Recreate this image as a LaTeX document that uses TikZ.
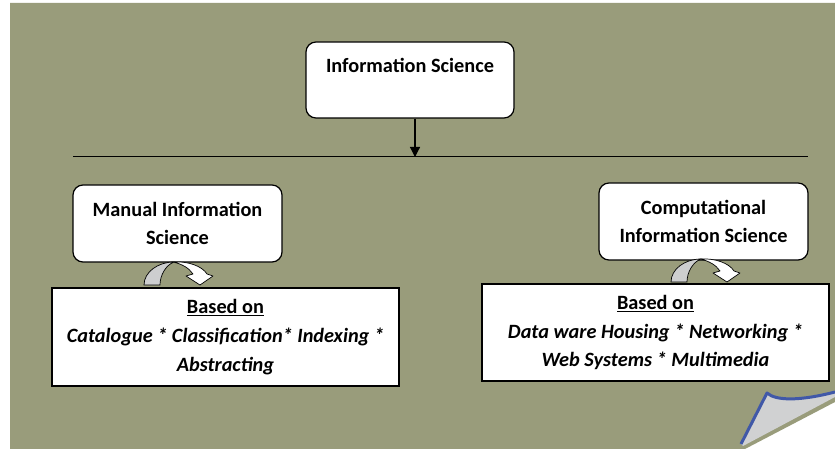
\documentclass[tikz,border=0pt]{standalone}
\usepackage{fontspec}
\setmainfont{Carlito}
\usetikzlibrary{arrows.meta}
\definecolor{olive}{RGB}{153,156,123}
\definecolor{foldgrey}{RGB}{208,209,210}
\definecolor{curlblue}{RGB}{64,88,168}
\definecolor{legrey}{RGB}{205,206,207}
\tikzset{
  txt/.style={font=\fontsize{20.3}{28.8}\selectfont\bfseries, align=center},
  rbox/.style={txt, draw=black, line width=1.2pt, fill=white, rounded corners=10pt, inner sep=0pt},
  sbox/.style={txt, draw=black, line width=1.2pt, fill=white, inner sep=0pt},
  curvarr/.pic={
    \fill[legrey, draw=black, line width=0.7pt]
      (-34,0) .. controls (-34,-13) and (-20,-23) .. (-4,-23)
      .. controls (-12,-20) and (-18,-10) .. (-18,0) -- cycle;
    \fill[white, draw=black, line width=0.7pt, line join=round]
      (-5,-23) .. controls (10,-24) and (24,-19) .. (29,-11)
      -- (35,-9) -- (22,0) -- (8,-9) -- (15,-11)
      .. controls (11,-17) and (4,-21) .. (-5,-23) -- cycle;
  }
}
\begin{document}
\begin{tikzpicture}[x=1pt,y=-1pt]
\useasboundingbox (0,0) rectangle (835,449);
\fill[white] (0,0) rectangle (835,449);
\fill[olive] (10,3) -- (835,3) -- (835,402) -- (745,449) -- (10,449) -- cycle;
% page curl
\fill[foldgrey] (741,444) -- (767,393) .. controls (776,401) and (800,401) .. (835,392)
  -- (835,397) -- (743,446) -- cycle;
\draw[curlblue, line width=3pt, line join=round] (741,444) -- (767,393)
  .. controls (776,401) and (800,401) .. (835,392);

% boxes
\node[rbox, minimum width=208pt, minimum height=76pt] (top) at (410,80) {Information Science\\~};
\node[rbox, minimum width=209pt, minimum height=77pt] (man) at (177.5,223.5) {Manual Information\\Science};
\node[rbox, minimum width=209pt, minimum height=77pt] (comp) at (703.5,221.5) {Computational\\Information Science};
\node[sbox, minimum width=347pt, minimum height=98pt] (manb) at (225.5,337) {\underline{Based on}\\\itshape Catalogue * Classification* Indexing *\\\itshape Abstracting};
\node[sbox, minimum width=347pt, minimum height=97pt] (compb) at (655.5,332.5) {\underline{Based on}\\\itshape Data ware Housing * Networking *\\\itshape Web Systems * Multimedia};

% horizontal line and arrow
\coordinate (hl) at (73,157);
\coordinate (hr) at (808,157);
\coordinate (hit) at (415,157);
\draw[line width=1pt] (hl) -- (hr);
\draw[line width=1.2pt, -{Triangle[width=10pt,length=10pt]}] (hit |- top.south) -- (hit);

% curved arrows
\pic at (178,285) {curvarr};
\pic at (705,282) {curvarr};
\end{tikzpicture}
\end{document}
